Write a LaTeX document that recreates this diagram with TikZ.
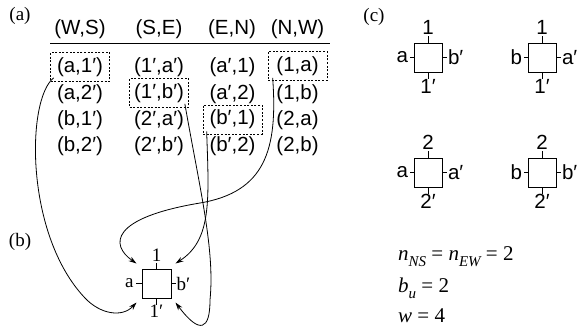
\documentclass[tikz,border=0pt]{standalone}
\usepackage{fontspec}
\setmainfont{Liberation Serif}
\setsansfont{Liberation Sans}
\usetikzlibrary{arrows.meta,calc}
\newcommand\lowsub[1]{\raisebox{-0.3em}{\fontsize{15}{15}\selectfont\itshape #1}}
\tikzset{
 cell/.style={font=\sffamily\fontsize{20.5}{20.5}\selectfont, minimum width=59pt, minimum height=29pt, inner sep=0pt},
 sel/.style={cell, draw, dash pattern=on 2pt off 1.6pt, line width=0.7pt},
 hdr/.style={font=\sffamily\fontsize{20.5}{20.5}\selectfont, inner sep=0pt},
 conn/.style={line width=0.8pt, -{Stealth[length=8pt,width=5pt]}},
 sq/.style={draw, line width=1pt, minimum width=29pt, minimum height=29pt, inner sep=0pt},
 tick/.style={line width=1pt},
 slab/.style={font=\fontsize{19}{19}\selectfont, inner sep=1.5pt},
 clab/.style={font=\sffamily\fontsize{20.5}{20.5}\selectfont, inner sep=1.5pt},
 panel/.style={font=\fontsize{19}{19}\selectfont, inner sep=0pt},
 eq/.style={font=\fontsize{21}{21}\selectfont, anchor=base west, inner sep=0pt},
}
\begin{document}
\begin{tikzpicture}[x=1pt,y=-1pt]
\useasboundingbox (0,0) rectangle (583,330);
% panel labels
\node[panel] (pa) at (20,16) {(a)};
\node[panel] (pb) at (20,242) {(b)};
\node[panel] (pc) at (374,17) {(c)};
% headers
\node[hdr] (h1) at (80,29) {(W,S)};
\node[hdr] (h2) at (159,29) {(S,E)};
\node[hdr] (h3) at (232,29) {(E,N)};
\node[hdr] (h4) at (297.5,29) {(N,W)};
\coordinate (rl) at (50,43);
\coordinate (rr) at (330,43);
\draw[line width=1pt] (rl) -- (rr);
% column 1
\node[sel]  (a1) at (80,67) {(a,1′)};
\node[cell] (a2) at (80,94) {(a,2′)};
\node[cell] (a3) at (80,120) {(b,1′)};
\node[cell] (a4) at (80,146) {(b,2′)};
% column 2
\node[cell] (b1) at (159,67) {(1′,a′)};
\node[sel]  (b2) at (159,93) {(1′,b′)};
\node[cell] (b3) at (159,120) {(2′,a′)};
\node[cell] (b4) at (159,146) {(2′,b′)};
% column 3
\node[cell] (c1) at (232.5,67) {(a′,1)};
\node[cell] (c2) at (232.5,94) {(a′,2)};
\node[sel]  (c3) at (232.5,119.5) {(b′,1)};
\node[cell] (c4) at (232.5,146) {(b′,2)};
% column 4
\node[sel]  (d1) at (297.5,66) {(1,a)};
\node[cell] (d2) at (297.5,94) {(1,b)};
\node[cell] (d3) at (297.5,120) {(2,a)};
\node[cell] (d4) at (297.5,146) {(2,b)};
% (b) switch
\node[sq] (sw) at (156.5,283.5) {};
\draw[tick] (sw.north) -- ++(0,-6) node[slab,anchor=south,inner sep=1pt] (swt) {1};
\draw[tick] (sw.south) -- ++(0,6) node[slab,anchor=north,inner sep=0pt] (swb) {1′};
\draw[tick] (sw.west) -- ++(-6,0) node[slab,anchor=east] (swl) {a};
\draw[tick] (sw.east) -- ++(4,0) node[slab,anchor=west,inner sep=0.5pt] (swr) {b′};
% arrow ends
\coordinate (s1) at ($(a1.south west)+(3.5,-4)$);
\coordinate (s2) at ($(d1.south west)+(5,-3)$);
\coordinate (s3) at ($(b2.south east)+(-4,-4)$);
\coordinate (s4) at ($(c3.south west)+(4,-3)$);
\coordinate (tl) at ($(sw.north west)+(-5,-5)$);
\coordinate (tr) at ($(sw.north east)+(4,-5)$);
\coordinate (bl) at ($(sw.south west)+(-5,4)$);
\coordinate (br) at ($(sw.south east)+(4,4)$);
\draw[conn] (s1) .. controls (26,100) and (25,235) .. (85,298) .. controls (100,314) and (122,318) .. (bl);
\draw[conn] (s2) .. controls (278,150) and (265,192) .. (200,203) .. controls (110,218) and (110,245) .. (tl);
\draw[conn] (s3) .. controls (200,190) and (215,250) .. (210,300) .. controls (210,330) and (200,335) .. (br);
\draw[conn] (s4) .. controls (209,200) and (212,240) .. (tr);
% (c) boxes
\foreach \n/\x/\y/\t/\b/\l/\r in {k1/428/57.5/1/1′/a/b′, k2/542/57.5/1/1′/b/a′, k3/428/172.5/2/2′/a/a′, k4/542/172.5/2/2′/b/b′}{
  \node[sq,minimum width=28pt] (\n) at (\x,\y) {};
  \draw[tick] (\n.north) -- ++(0,-7) node[clab,anchor=south,inner sep=0.5pt] (\n t) {\t};
  \draw[tick] (\n.south) -- ++(0,6) node[clab,anchor=north,inner sep=0pt] (\n b) {\b};
  \draw[tick] (\n.west) -- ++(-4,0) node[clab,anchor=east,inner sep=1pt] (\n l) {\l};
  \draw[tick] (\n.east) -- ++(4,0) node[clab,anchor=west,inner sep=1pt] (\n r) {\r};
}
% equations
\node[eq] (e1) at (398,260) {\textit{n}\lowsub{NS} = \textit{n}\lowsub{EW} = 2};
\node[eq] (e2) at (398,292) {\textit{b}\lowsub{u} = 2};
\node[eq] (e3) at (398,322) {\textit{w} = 4};
\end{tikzpicture}
\end{document}
